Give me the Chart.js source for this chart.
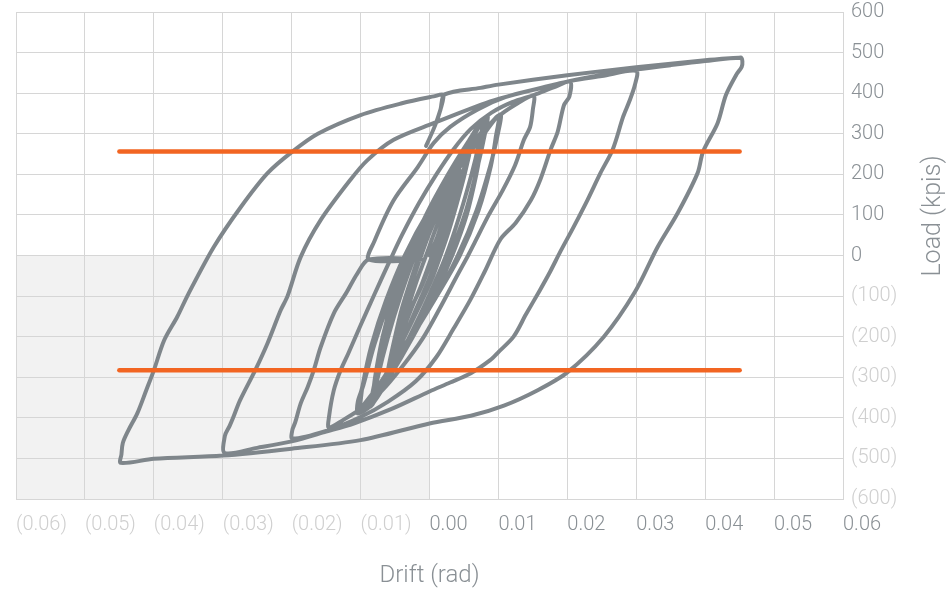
<!DOCTYPE html>
<html>
<head>
<meta charset="utf-8">
<script src="https://cdn.jsdelivr.net/npm/chart.js@4.4.1/dist/chart.umd.min.js"></script>
<style>
  html, body { margin: 0; padding: 0; background: #fff; }
  #wrap { width: 951px; height: 589px; }
</style>
</head>
<body>
<div id="wrap"><canvas id="hysteresisChart"></canvas></div>
<script>
// Drift (rad) / load (kips) pairs, one array per branch of the test, in loading order
const startPoint = [[0, 0]];
const upA = [[0.0010, 40], [0.0022, 100], [0.0032, 150], [0.0041, 195]];
const downA = [[0.0030, 130], [0.0017, 65], [0.0004, 0], [-0.0010, -65], [-0.0026, -130], [-0.0041, -195]];
const upA2 = [[-0.0045, -215], [-0.0033, -140], [-0.0020, -70], [-0.0005, 0], [0.0010, 70], [0.0027, 140], [0.0044, 210]];
const downA2 = [[0.0035, 140], [0.0020, 70], [0.0006, 0], [-0.0010, -70], [-0.0029, -140], [-0.0045, -215]];
const upB = [[-0.0056, -265], [-0.0048, -200], [-0.0037, -130], [-0.0024, -60], [-0.0012, 0], [0.0001, 60], [0.0019, 130], [0.0037, 200], [0.0056, 265]];
const downB = [[0.0048, 200], [0.0037, 130], [0.0024, 60], [0.0012, 0], [-0.0001, -60], [-0.0019, -130], [-0.0037, -200], [-0.0056, -265]];
const upB2 = [[-0.0060, -280], [-0.0050, -200], [-0.0040, -130], [-0.0027, -60], [-0.0015, 0], [-0.0001, 60], [0.0017, 130], [0.0037, 200], [0.0060, 275]];
const downB2 = [[0.0051, 200], [0.0040, 130], [0.0028, 60], [0.0016, 0], [0.0003, -60], [-0.0016, -130], [-0.0036, -200], [-0.0060, -280]];
const upC = [[-0.0082, -365], [-0.0075, -300], [-0.0060, -200], [-0.0042, -100], [-0.0021, 0], [0.0004, 100], [0.0033, 200], [0.0056, 270], [0.0078, 335]];
const downC = [[0.0071, 270], [0.0061, 200], [0.0044, 100], [0.0024, 0], [-0.0001, -100], [-0.0029, -200], [-0.0060, -300], [-0.0082, -365]];
const upC2 = [[-0.0086, -372], [-0.0078, -300], [-0.0064, -200], [-0.0047, -100], [-0.0025, 0], [0.0001, 100], [0.0032, 200], [0.0059, 280], [0.0084, 345]];
const downC2 = [[0.0078, 280], [0.0067, 200], [0.0051, 100], [0.0029, 0], [0.0003, -100], [-0.0027, -200], [-0.0060, -300], [-0.0086, -372]];
const upC3 = [[-0.0084, -368], [-0.0079, -300], [-0.0068, -200], [-0.0052, -100], [-0.0031, 0], [-0.0005, 100], [0.0027, 200], [0.0056, 280], [0.0080, 340]];
const downC3 = [[0.0076, 280], [0.0068, 200], [0.0054, 100], [0.0033, 0], [0.0007, -100], [-0.0024, -200], [-0.0058, -300], [-0.0084, -368]];
const upD = [[-0.0105, -388], [-0.0097, -320], [-0.0082, -220], [-0.0060, -110], [-0.0031, 0], [0.0003, 110], [0.0045, 220], [0.0075, 290], [0.0103, 348]];
const downD = [[0.0098, 290], [0.0088, 220], [0.0068, 110], [0.0041, 0], [0.0007, -110], [-0.0036, -220], [-0.0074, -320], [-0.0105, -388]];
const upD2 = [[-0.0102, -383], [-0.0097, -320], [-0.0084, -220], [-0.0063, -110], [-0.0036, 0], [-0.0001, 110], [0.0042, 220], [0.0073, 290], [0.0100, 345]];
const downD2 = [[0.0096, 290], [0.0089, 220], [0.0071, 110], [0.0044, 0], [0.0007, -110], [-0.0033, -220], [-0.0073, -320], [-0.0104, -386]];
const upE = [[-0.0104, -360], [-0.0096, -320], [-0.0080, -220], [-0.0058, -110], [-0.0032, 0], [0.0000, 110], [0.0038, 220], [0.0068, 290], [0.0098, 340], [0.0125, 372], [0.0151, 394]];
const downE = [[0.0150, 360], [0.0146, 317], [0.0137, 285], [0.0124, 222], [0.0106, 160], [0.0086, 100], [0.0065, 30], [0.0056, 0], [0.0040, -50], [0.0015, -130], [-0.0010, -205], [-0.0040, -275], [-0.0070, -335], [-0.0100, -378], [-0.0125, -405], [-0.0146, -424]];
const upF = [[-0.0146, -400], [-0.0139, -333], [-0.0129, -283], [-0.0118, -242], [-0.0100, -172], [-0.0080, -96], [-0.0060, -22], [-0.0040, 50], [-0.0015, 130], [0.0010, 200], [0.0035, 262], [0.0060, 312], [0.0090, 352], [0.0120, 378], [0.0152, 396], [0.0180, 414], [0.0204, 428]];
const downF = [[0.0203, 392], [0.0195, 370], [0.0186, 305], [0.0176, 262], [0.0161, 188], [0.0147, 136], [0.0125, 80], [0.0103, 40], [0.0080, -40], [0.0059, -110], [0.0035, -180], [0.0010, -250], [-0.0020, -310], [-0.0060, -360], [-0.0100, -398], [-0.0150, -432], [-0.0199, -451]];
const upG = [[-0.0199, -430], [-0.0195, -412], [-0.0187, -365], [-0.0177, -325], [-0.0168, -283], [-0.0158, -226], [-0.0139, -143], [-0.0120, -90], [-0.0105, -45], [-0.0088, -10], [-0.0012, -10], [-0.0088, -10], [-0.0080, 35], [-0.0052, 136], [-0.0017, 218], [0.0006, 277], [0.0030, 317], [0.0070, 360], [0.0110, 390], [0.0160, 412], [0.0204, 430], [0.0250, 442], [0.0300, 455]];
const downG = [[0.0298, 420], [0.0290, 380], [0.0281, 342], [0.0266, 262], [0.0248, 203], [0.0229, 136], [0.0209, 70], [0.0190, 10], [0.0175, -40], [0.0160, -86], [0.0140, -145], [0.0122, -200], [0.0100, -238], [0.0088, -258], [0.0060, -290], [0.0030, -313], [0.0000, -335], [-0.0055, -378], [-0.0110, -414], [-0.0150, -434], [-0.0200, -458], [-0.0250, -474], [-0.0297, -487]];
const upH = [[-0.0297, -445], [-0.0290, -420], [-0.0285, -400], [-0.0275, -357], [-0.0253, -283], [-0.0235, -216], [-0.0216, -135], [-0.0206, -100], [-0.0187, -4], [-0.0158, 87], [-0.0115, 186], [-0.0090, 235], [-0.0052, 285], [0.0006, 326], [0.0074, 371], [0.0100, 386], [0.0150, 408], [0.0204, 430], [0.0250, 445], [0.0300, 458], [0.0350, 469], [0.0400, 479], [0.0452, 487]];
const downH = [[0.0454, 478], [0.0453, 465], [0.0445, 445], [0.0430, 395], [0.0418, 326], [0.0397, 256], [0.0389, 203], [0.0360, 104], [0.0331, 21], [0.0298, -90], [0.0253, -200], [0.0200, -288], [0.0157, -332], [0.0108, -370], [0.0060, -395], [0.0000, -414], [-0.0100, -455], [-0.0200, -476], [-0.0300, -493], [-0.0400, -501], [-0.0448, -511]];
const upH2 = [[-0.0447, -490], [-0.0445, -462], [-0.0437, -431], [-0.0424, -389], [-0.0411, -332], [-0.0400, -283], [-0.0385, -209], [-0.0366, -151], [-0.0350, -95], [-0.0313, 21], [-0.0274, 119], [-0.0235, 203], [-0.0199, 256], [-0.0162, 300], [-0.0100, 346], [-0.0040, 375], [0.0006, 392], [0.0020, 396], [0.0016, 360], [0.0008, 320], [-0.0005, 270], [0.0008, 320], [0.0016, 360], [0.0022, 397], [0.0074, 413], [0.0100, 421], [0.0200, 444], [0.0300, 464], [0.0400, 481], [0.0452, 488]];

const loadingHistory = [startPoint, upA, downA, upA2, downA2, upB, downB, upB2, downB2,
    upC, downC, upC2, downC2, upC3, downC3, upD, downD, upD2, downD2,
    upE, downE, upF, downF, upG, downG, upH, downH, upH2];

// orange reference lines
const refDrift = [-0.045, 0.045];
const upperRefLoad = 256;
const lowerRefLoad = -283;

// shaded quadrant (negative drift, negative load)
const shadeDrift = [-0.06, 0];
const shadeLoad = [-600, 0];

const driftTicks = { min: -0.06, max: 0.06, step: 0.01 };
const loadTicks = { min: -600, max: 600, step: 100 };

const gridColor = '#d6d6d6';
const darkLabel = '#8a9095';
const lightLabel = '#cfcfcf';
const fontFamily = 'Roboto, "Helvetica Neue", Arial, sans-serif';

function toPoints(pairs) {
    return pairs.map(([x, y]) => ({ x: x, y: y }));
}

function formatAccounting(value, digits) {
    const v = Number(value.toFixed(digits));
    if (v < 0) return `(${Math.abs(v).toFixed(digits)})`;
    return Math.abs(v).toFixed(digits);
}

function labelColor(ctx) {
    return ctx.tick && ctx.tick.value < -1e-9 ? lightLabel : darkLabel;
}

const quadrantShade = {
    id: 'quadrantShade',
    beforeDraw(chart) {
        const { ctx, scales: { x, y } } = chart;
        const left = x.getPixelForValue(shadeDrift[0]);
        const right = x.getPixelForValue(shadeDrift[1]);
        const top = y.getPixelForValue(shadeLoad[1]);
        const bottom = y.getPixelForValue(shadeLoad[0]);
        ctx.save();
        ctx.fillStyle = '#f2f2f2';
        ctx.fillRect(left, top, right - left, bottom - top);
        ctx.restore();
    }
};

const axisTitles = {
    id: 'axisTitles',
    afterDraw(chart) {
        const { ctx, chartArea } = chart;
        ctx.save();
        ctx.fillStyle = darkLabel;
        ctx.font = `300 24px ${fontFamily}`;
        ctx.textAlign = 'center';
        ctx.textBaseline = 'middle';
        ctx.fillText('Drift (rad)', (chartArea.left + chartArea.right) / 2, 576);
        ctx.translate(934, 216);
        ctx.rotate(-Math.PI / 2);
        ctx.font = `300 25px ${fontFamily}`;
        ctx.fillText('Load (kpis)', 0, 0);
        ctx.restore();
    }
};

const hysteresisPoints = toPoints(loadingHistory.flat());

new Chart(document.getElementById('hysteresisChart').getContext('2d'), {
    type: 'scatter',
    data: {
        datasets: [
            {
                label: 'Upper reference',
                data: toPoints(refDrift.map(d => [d, upperRefLoad])),
                showLine: true,
                borderColor: '#f26522',
                borderWidth: 4.5,
                borderCapStyle: 'round',
                pointRadius: 0
            },
            {
                label: 'Lower reference',
                data: toPoints(refDrift.map(d => [d, lowerRefLoad])),
                showLine: true,
                borderColor: '#f26522',
                borderWidth: 4.5,
                borderCapStyle: 'round',
                pointRadius: 0
            },
            {
                label: 'Load vs drift',
                data: hysteresisPoints,
                showLine: true,
                borderColor: '#7f868b',
                borderWidth: 4,
                borderJoinStyle: 'round',
                borderCapStyle: 'round',
                tension: 0.3,
                pointRadius: 0
            }
        ]
    },
    options: {
        responsive: true,
        maintainAspectRatio: false,
        animation: false,
        layout: { padding: { left: 16, top: 12, right: 0, bottom: 0 } },
        plugins: {
            legend: { display: false },
            tooltip: { enabled: false }
        },
        scales: {
            x: {
                type: 'linear',
                min: driftTicks.min,
                max: driftTicks.max,
                afterFit: (scale) => {
                    scale.height = 90;
                    scale.paddingLeft = 0;
                    scale.paddingRight = 0;
                },
                grid: { color: gridColor, drawTicks: false },
                border: { color: gridColor },
                ticks: {
                    stepSize: driftTicks.step,
                    align: 'start',
                    padding: 14,
                    maxRotation: 0,
                    autoSkip: false,
                    font: { family: fontFamily, size: 20, weight: 300 },
                    color: labelColor,
                    callback: (value) => formatAccounting(value, 2)
                }
            },
            y: {
                type: 'linear',
                position: 'right',
                min: loadTicks.min,
                max: loadTicks.max,
                afterFit: (scale) => {
                    scale.width = 108;
                    scale.paddingTop = 0;
                    scale.paddingBottom = 0;
                },
                grid: { color: gridColor, drawTicks: false },
                border: { color: gridColor },
                ticks: {
                    stepSize: loadTicks.step,
                    padding: 8,
                    autoSkip: false,
                    font: { family: fontFamily, size: 20, weight: 300 },
                    color: labelColor,
                    callback: (value) => formatAccounting(value, 0)
                }
            }
        }
    },
    plugins: [quadrantShade, axisTitles]
});
</script>
</body>
</html>
